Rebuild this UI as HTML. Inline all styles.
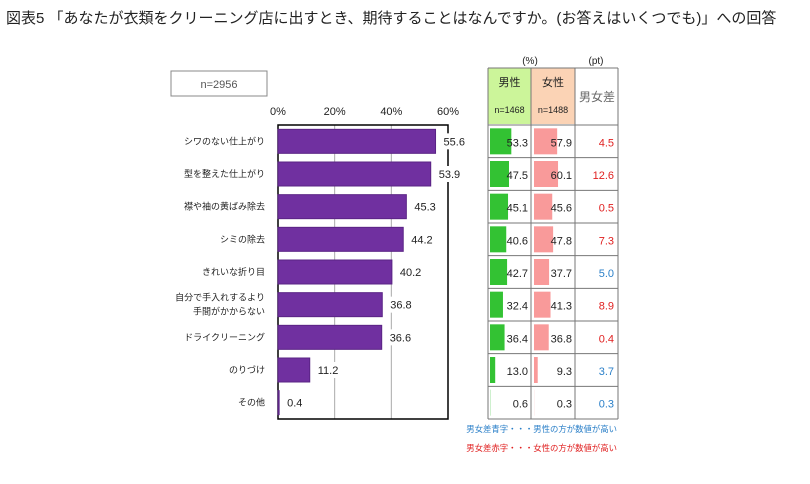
<!DOCTYPE html>
<html><head><meta charset="utf-8"><style>
body{margin:0;background:#fff;font-family:"Liberation Sans","Noto Sans CJK JP",sans-serif;}
svg text{font-family:"Liberation Sans","Noto Sans CJK JP",sans-serif;}
</style></head><body>
<svg id="c" width="810" height="479" xmlns="http://www.w3.org/2000/svg">
<text x="6" y="23" font-size="15" fill="#222">図表5 「あなたが衣類をクリーニング店に出すとき、期待することはなんですか。(お答えはいくつでも)」への回答</text>
<rect x="171" y="71" width="96" height="25" fill="#fff" stroke="#888"/>
<text x="219" y="88" font-size="11" fill="#555" text-anchor="middle">n=2956</text>
<g id="plot"></g>
<g id="tbl"></g>
<text x="617" y="432" font-size="8.4" fill="#2a7fc8" text-anchor="end">男女差青字・・・男性の方が数値が高い</text>
<text x="617" y="451" font-size="8.4" fill="#e02020" text-anchor="end">男女差赤字・・・女性の方が数値が高い</text>
</svg>
<script>
const categories=["シワのない仕上がり","型を整えた仕上がり","襟や袖の黄ばみ除去","シミの除去","きれいな折り目","自分で手入れするより|手間がかからない","ドライクリーニング","のりづけ","その他"];
const totalValues=[55.6,53.9,45.3,44.2,40.2,36.8,36.6,11.2,0.4];
const maleValues=[53.3,47.5,45.1,40.6,42.7,32.4,36.4,13.0,0.6];
const femaleValues=[57.9,60.1,45.6,47.8,37.7,41.3,36.8,9.3,0.3];
const diffValues=[4.5,12.6,0.5,7.3,5.0,8.9,0.4,3.7,0.3];
const diffColors=["red","red","red","red","blue","red","red","blue","blue"];
const ticks=[0,20,40,60];
const NS="http://www.w3.org/2000/svg";
function mk(t,a,p,txt){const e=document.createElementNS(NS,t);for(const k in a)e.setAttribute(k,a[k]);if(txt!==undefined)e.textContent=txt;p.appendChild(e);return e;}
const x0=278,x1=448,yTop=125,yBot=419;
const xs=v=>x0+(v/60)*(x1-x0);
const rowH=(yBot-yTop)/categories.length;
const yc=i=>yTop+rowH*(i+0.5);
const plot=document.getElementById('plot');
ticks.forEach(t=>{
 const tl=mk('text',{x:xs(t),y:115,'font-size':11,'text-anchor':'middle',fill:'#222'},plot,t+'%');
 
 
 if(t>0&&t<60){const g=mk('line',{x1:xs(t),x2:xs(t),y1:yTop,y2:yBot,stroke:'#aaa','stroke-width':1},plot);
 
 }
});
const frame=mk('rect',{x:x0,y:yTop,width:x1-x0,height:yBot-yTop,fill:'none',stroke:'#000','stroke-width':1.5},plot);


categories.forEach((c,i)=>{
 const y=yc(i);
 const b=mk('rect',{x:x0,y:y-12,width:xs(totalValues[i])-x0,height:24,fill:'#7030a0',stroke:'#5a2385'},plot);
 
 
 const bg=mk('rect',{x:xs(totalValues[i])+4,y:y-8,width:30,height:16,fill:'#fff'},plot);
 
 
 const lv=mk('text',{x:xs(totalValues[i])+8,y:y+4,'font-size':11,fill:'#222'},plot,totalValues[i].toFixed(1));
 
 
 const parts=c.split('|');
 parts.forEach((p,j)=>{
  const tl=mk('text',{x:265,y:y+3+(j-(parts.length-1)/2)*14,'font-size':9,'text-anchor':'end',fill:'#222'},plot,p);
  
  
 });
});
const tbl=document.getElementById('tbl');
const c0=488,c1=531,c2=575,c3=618,hT=68,hB=124;
const hm=mk('rect',{x:c0,y:hT,width:c1-c0,height:hB-hT,fill:'#ccf59a'},tbl);


const hf=mk('rect',{x:c1,y:hT,width:c2-c1,height:hB-hT,fill:'#fbd3b5'},tbl);


[["男性",509.5,86,11],["n=1468",509.5,113,9],["女性",553,86,11],["n=1488",553,113,9]].forEach(a=>{
 const t=mk('text',{x:a[1],y:a[2],'font-size':a[3],'text-anchor':'middle',fill:'#222'},tbl,a[0]);
 
 
});
const hd=mk('text',{x:597,y:101,'font-size':12,'text-anchor':'middle',fill:'#666'},tbl,'男女差');


const u1=mk('text',{x:530,y:64,'font-size':10,'text-anchor':'middle',fill:'#222'},tbl,'(%)');


const u2=mk('text',{x:596,y:64,'font-size':10,'text-anchor':'middle',fill:'#222'},tbl,'(pt)');


const ps=0.4;
categories.forEach((c,i)=>{
 const y=yc(i);
 const gm=mk('rect',{x:c0+2,y:y-13,width:maleValues[i]*ps,height:26,fill:'#33c233'},tbl);
 
 
 const gf=mk('rect',{x:c1+3,y:y-13,width:femaleValues[i]*ps,height:26,fill:'#f99a9a'},tbl);
 
 
 const tm=mk('text',{x:c1-3,y:y+5,'font-size':11,'text-anchor':'end',fill:'#222'},tbl,maleValues[i].toFixed(1));
 
 
 const tf=mk('text',{x:c2-3,y:y+5,'font-size':11,'text-anchor':'end',fill:'#222'},tbl,femaleValues[i].toFixed(1));
 
 
 const td=mk('text',{x:c3-4,y:y+5,'font-size':11,'text-anchor':'end',fill:diffColors[i]==='red'?'#e02020':'#2a7fc8'},tbl,diffValues[i].toFixed(1));
 
 
});
[c0,c1,c2,c3].forEach(x=>{mk('line',{x1:x,x2:x,y1:hT,y2:yBot,stroke:'#777'},tbl);});
mk('line',{x1:c0,x2:c3,y1:hT,y2:hT,stroke:'#777'},tbl);
for(let i=0;i<=categories.length;i++){const y=yTop+rowH*i;mk('line',{x1:c0,x2:c3,y1:y,y2:y,stroke:'#777'},tbl);}
</script>
</body></html>
